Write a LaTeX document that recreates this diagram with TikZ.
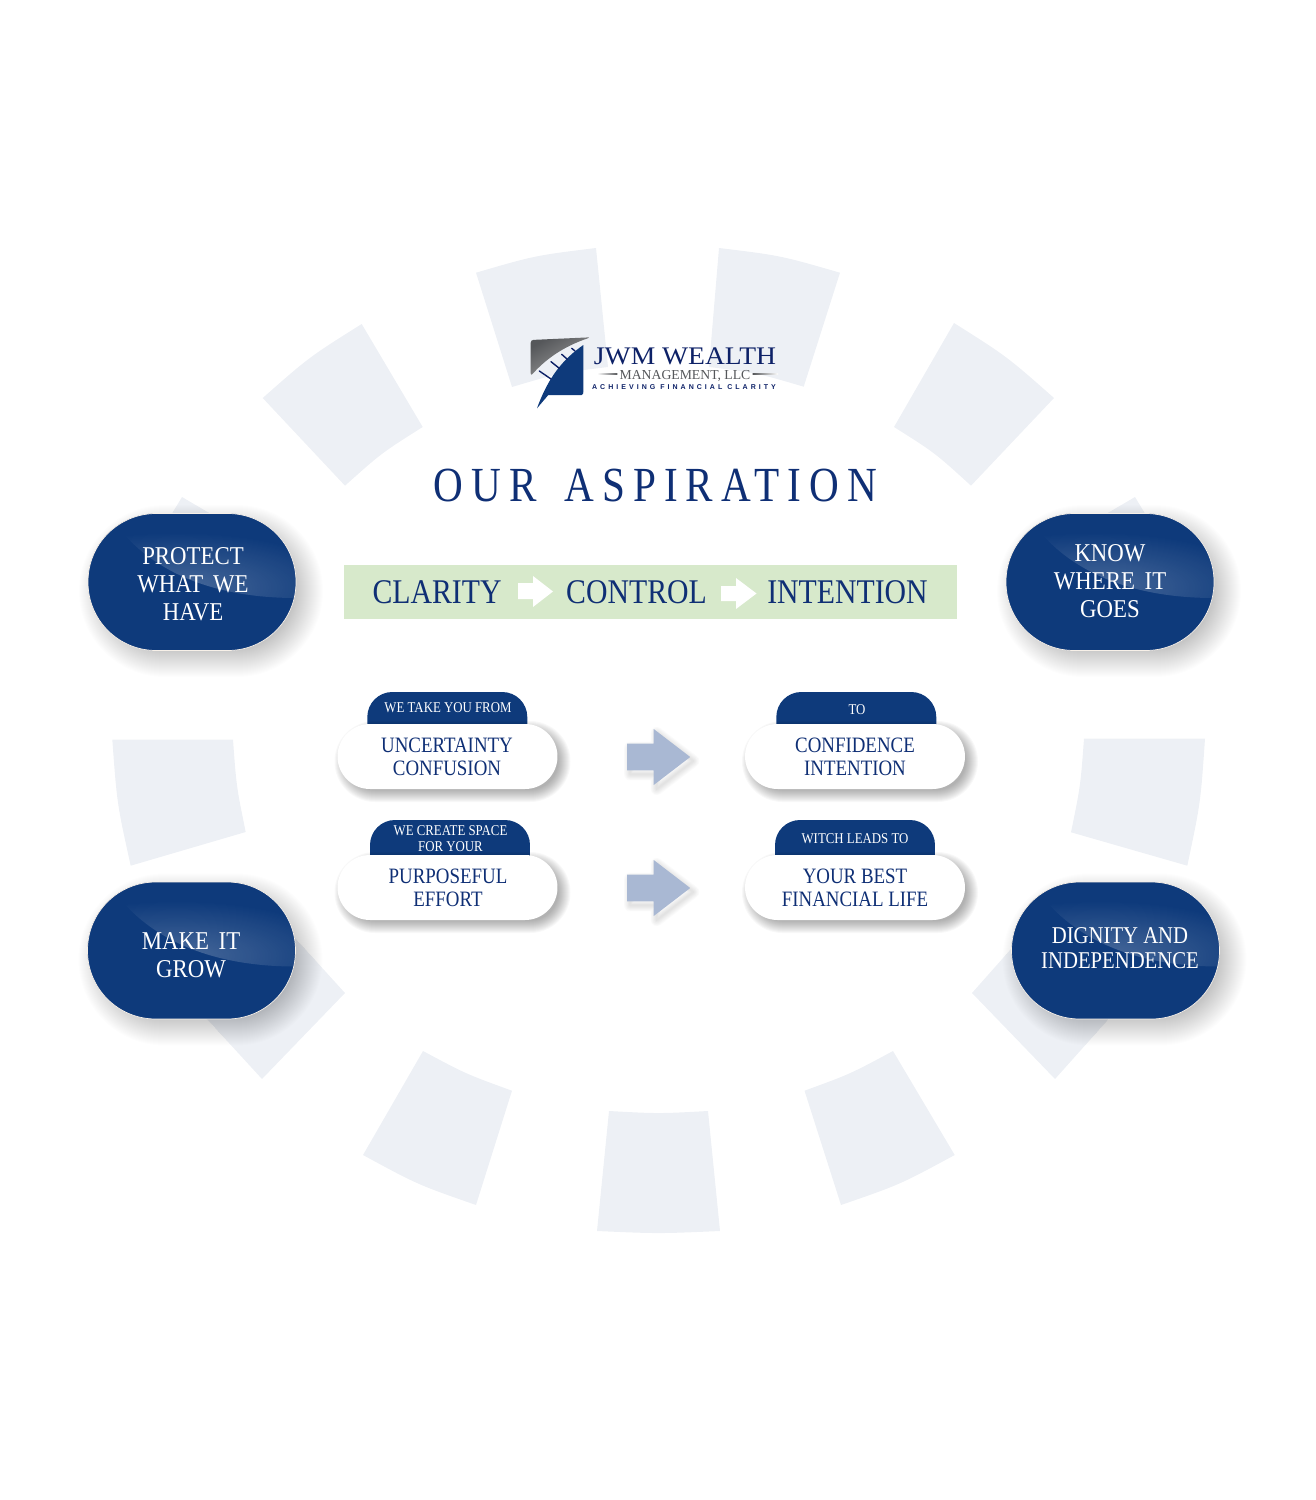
\documentclass[tikz,border=0pt]{standalone}
\usepackage{fontspec}
\setmainfont{Liberation Serif}
\newfontfamily\narrowfont[FakeStretch=0.86]{Liberation Serif}
\newfontfamily\bluefont[FakeStretch=0.89,WordSpace=1.7]{Liberation Serif}
\newfontfamily\headfont[FakeStretch=0.84,LetterSpace=16.5,WordSpace=1.5]{Liberation Serif}
\newfontfamily\logofont[FakeStretch=1.09]{Liberation Serif}
\newfontfamily\tagfont[LetterSpace=43]{Liberation Sans}
\usetikzlibrary{fadings}
\definecolor{ringgray}{HTML}{EDF0F5}
\definecolor{pillblue}{HTML}{0E3A7B}
\definecolor{inkblue}{HTML}{0F2F75}
\definecolor{logoblue}{HTML}{0D2167}
\definecolor{bandgreen}{HTML}{D7E9CB}
\definecolor{arrowblue}{HTML}{A9B8D3}
\definecolor{logogray}{HTML}{55575A}
\tikzfading[name=shineglow,inner color=transparent!76,outer color=transparent!100]
\tikzset{
	ringpart/.style={fill=ringgray,draw=none},
	bluepill/.style={rectangle,fill=pillblue,draw=white!88!brown,line width=0.4pt,rounded corners=1.36cm,minimum width=4.16cm,minimum height=2.74cm,inner sep=0pt},
	whitepill/.style={rectangle,fill=white,draw=none,rounded corners=0.65cm,minimum width=4.4cm,minimum height=1.3cm,inner sep=0pt},
	tabpill/.style={rectangle,fill=pillblue,draw=none,rounded corners=0.5cm,minimum width=3.2cm,minimum height=1.2cm,inner sep=0pt},
	bluetext/.style={text=white,align=center,inner sep=0pt,font=\bluefont\fontsize{14.6}{16}\selectfont},
	pilltext/.style={text=inkblue,align=center,inner sep=0pt,font=\narrowfont\fontsize{12.5}{12.8}\selectfont},
	tabtext/.style={text=white,align=center,inner sep=0pt,font=\narrowfont\fontsize{8.5}{9.1}\selectfont},
	bandtext/.style={text=inkblue,inner sep=0pt,font=\narrowfont\fontsize{19.7}{22}\selectfont},
}
\newcommand{\softpill}[8]{% cx, cy, half width, half height, offset, first, last, opacity
	\foreach \e in {#6,...,#7}{
		\pgfmathsetmacro{\rr}{(#4+\e)*0.02}
		\fill[black,opacity=#8,rounded corners=\rr cm] (#1-#3-\e+#5,#2-#4-\e+#5) rectangle (#1+#3+\e+#5,#2+#4+\e+#5);
	}
}
\newcommand{\bluepill}[3]{
	\softpill{#2}{#3}{104}{68}{9}{-10}{18}{0.009}
	\node[bluepill] (#1) at (#2,#3) {};
	\begin{scope}
		\path[clip,rounded corners=1.36cm] (#2-104,#3-68) rectangle (#2+104,#3+68);
		\clip (#2-75,#3-56) .. controls (#2-35,#3-5) and (#2+30,#3+16) .. (#2+104,#3+16) -- (#2+104,#3-68) -- (#2-75,#3-68) -- cycle;
		\fill[white,path fading=shineglow] (#2-15-170,#3+5-55) rectangle (#2-15+170,#3+5+55);
	\end{scope}
}
\newcommand{\whitepill}[3]{
	\softpill{#2}{#3}{110}{32.5}{5}{-4}{8}{0.028}
	\node[whitepill] (#1) at (#2,#3) {};
}
\newcommand{\arrowpath}[2]{(#1-31.5,#2-13.3) -- (#1-5,#2-13.3) -- (#1-5,#2-28) -- (#1+31.5,#2) -- (#1-5,#2+28) -- (#1-5,#2+13.3) -- (#1-31.5,#2+13.3) -- cycle}
\newcommand{\flowarrow}[2]{
	\foreach \e in {2,4,...,14}{
		\draw[black,opacity=0.016,line width=\e*0.5pt] \arrowpath{#1+3}{#2+4};
	}
	\fill[arrowblue] \arrowpath{#1}{#2};
}
\begin{document}
\begin{tikzpicture}[line cap=round,line join=round,x=0.02cm,y=-0.02cm]
	\useasboundingbox (0,0) rectangle (1315,1500);
	% ring
	\fill[ringpart] (262.7,398) .. controls (309.2,357) .. (361.7,324) -- (422.7,427) .. controls (381.5,453) .. (345,485.7) -- cycle;
	\fill[ringpart] (476,272.7) .. controls (535,255.5) .. (596,248) -- (608,367) .. controls (559.2,373) .. (512,387) -- cycle;
	\fill[ringpart] (719,248) .. controls (780.5,255.5) .. (840,272.7) -- (803.7,386.7) .. controls (757.2,373) .. (709,367) -- cycle;
	\fill[ringpart] (954,323) .. controls (1007,356.5) .. (1054,398) -- (971,485.7) .. controls (934.9,452.8) .. (894,427) -- cycle;
	\fill[ringpart] (182,497) -- (250,537) -- (208,607) -- (140,567) -- cycle;
	\fill[ringpart] (1135,497) -- (1067,537) -- (1109,607) -- (1177,567) -- cycle;
	\fill[ringpart] (112.3,739.5) -- (233,739.5) .. controls (236.4,786.4) .. (245.7,832) -- (130.7,865.7) .. controls (117,803.6) .. (112.3,739.5) -- cycle;
	\fill[ringpart] (1084,738.5) -- (1205,738.5) .. controls (1200.6,802.6) .. (1187.3,865.7) -- (1071,832.3) .. controls (1080.5,785.7) .. (1084,738.5) -- cycle;
	\fill[ringpart] (345,993) -- (262,1079) -- (185,995) -- (265,905) -- cycle;
	\fill[ringpart] (972,993) -- (1055,1079) -- (1130,995) -- (1050,905) -- cycle;
	\fill[ringpart] (423,1051) .. controls (466,1074) .. (512,1090.7) -- (476,1205) .. controls (417.5,1184.6) .. (363,1155) -- cycle;
	\fill[ringpart] (893,1051) .. controls (850.2,1074) .. (804.5,1090.7) -- (841,1205) .. controls (900,1184.6) .. (954.7,1155) -- cycle;
	\fill[ringpart] (609,1111) .. controls (658.5,1113.7) .. (708,1111) -- (720,1231) .. controls (658.5,1233.7) .. (597,1231) -- cycle;
	% logo
	\shade[left color=logogray,right color=gray!75,shading angle=30,rounded corners=1.5pt] (530.7,340) -- (590.7,337.3) .. controls (562,347) and (545,360) .. (530.7,376) -- cycle;
	\fill[pillblue] (537,408.3) .. controls (548,378) and (562,360) .. (583.3,345) -- (583.3,392) .. controls (583.3,394) .. (581.5,395) -- (548.3,395) -- cycle;
	\draw[logoblue,line width=0.8pt] (539.3,371) -- (551,379) (551,361.7) -- (559.3,368.3) (561.7,354.3) -- (567.3,359.3) (571.7,348.3) -- (575,351);
	\node[text=logoblue,inner sep=0pt,font=\logofont\fontsize{14.4}{15}\selectfont] (logoname) at (685,356.5) {JWM WEALTH};
	\node[text=logogray,inner sep=0pt,font=\fontsize{7.8}{8}\selectfont] (logosub) at (685,376) {MANAGEMENT, LLC};
	\node[text=logoblue,inner sep=0pt,font=\tagfont\bfseries\fontsize{4}{5}\selectfont] (logotag) at (684,387.3) {ACHIEVING FINANCIAL CLARITY};
	\shade[left color=white,right color=logogray] (597.3,373.8) rectangle (617.3,374.9);
	\shade[left color=logogray,right color=white] (752.7,373.8) rectangle (778,374.9);
	% heading and band
	\node[text=inkblue,inner sep=0pt,font=\headfont\fontsize{27.9}{30}\selectfont] (heading) at (655.5,485.5) {OUR ASPIRATION};
	\node[rectangle,fill=bandgreen,minimum width=12.26cm,minimum height=1.08cm,inner sep=0pt] (band) at (650.5,592) {};
	\node[bandtext] (clarity) at (437,592.5) {CLARITY};
	\node[bandtext] (control) at (636.5,592) {CONTROL};
	\node[bandtext] (intention) at (847.5,592) {INTENTION};
	\fill[white] (518,583) -- (533,583) -- (533,576) -- (553,591.5) -- (533,607) -- (533,599) -- (518,599) -- cycle;
	\fill[white] (721,586) -- (736,586) -- (736,578) -- (756.5,593.5) -- (736,609) -- (736,601) -- (721,601) -- cycle;
	% four corners
	\bluepill{protectpill}{192}{582}
	\node[bluetext] (protecttext) at (193,584) {PROTECT\\WHAT WE\\HAVE};
	\bluepill{knowpill}{1110}{582}
	\node[bluetext] (knowtext) at (1110,581) {KNOW\\WHERE IT\\GOES};
	\bluepill{growpill}{191.5}{950.5}
	\node[bluetext] (growtext) at (191,955) {MAKE IT\\GROW};
	\bluepill{dignitypill}{1115.5}{950.5}
	\node[bluetext,font=\narrowfont\fontsize{13.7}{14.2}\selectfont] (dignitytext) at (1120,948.5) {DIGNITY AND\\INDEPENDENCE};
	% middle rows
	\node[tabpill] (fromtab) at (447.3,722) {};
	\node[tabpill] (totab) at (856.3,722) {};
	\node[tabpill] (spacetab) at (450,850) {};
	\node[tabpill] (leadstab) at (855,850) {};
	\whitepill{frompill}{447.5}{756.5}
	\whitepill{topill}{855}{756.5}
	\whitepill{effortpill}{447.5}{887.5}
	\whitepill{lifepill}{855}{887.5}
	\node[tabtext] (fromtag) at (448,708) {WE TAKE YOU FROM};
	\node[tabtext] (totag) at (857,710) {TO};
	\node[tabtext] (spacetag) at (450.5,839) {WE CREATE SPACE\\FOR YOUR};
	\node[tabtext] (leadstag) at (855,839) {WITCH LEADS TO};
	\node[pilltext] (fromtext) at (447,757) {UNCERTAINTY\\CONFUSION};
	\node[pilltext] (totext) at (855,757) {CONFIDENCE\\INTENTION};
	\node[pilltext] (efforttext) at (448,888) {PURPOSEFUL\\EFFORT};
	\node[pilltext] (lifetext) at (855,888) {YOUR BEST\\FINANCIAL LIFE};
	\flowarrow{658.7}{757}
	\flowarrow{658.7}{888}
\end{tikzpicture}
\end{document}
